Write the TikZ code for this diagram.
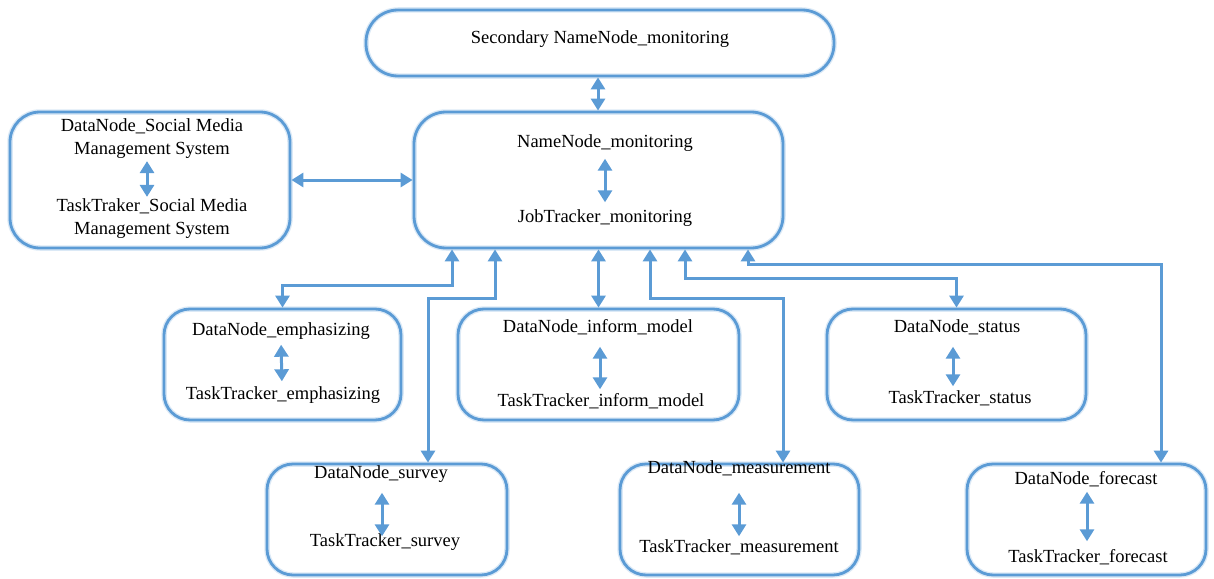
\documentclass[tikz,border=0pt]{standalone}
\usepackage{fontspec}
\setmainfont{Liberation Serif}
\usetikzlibrary{arrows.meta}
\definecolor{lblue}{RGB}{91,155,213}
\tikzset{
  box/.style={draw=lblue, line width=2.8pt, rounded corners=26pt, inner sep=0pt,
    preaction={draw=lblue!22, line width=5.5pt}},
  lbl/.style={inner sep=0pt, text height=13pt, text depth=4pt, font=\fontsize{18.5}{23}\selectfont},
  dbl/.style={draw=lblue, line width=3pt, {Triangle[width=14pt,length=12pt]}-{Triangle[width=14pt,length=12pt]}},
  inarr/.style={dbl, shorten <=5pt, shorten >=5pt}
}
\begin{document}
\begin{tikzpicture}[x=1pt,y=-1pt]
\useasboundingbox (0,0) rectangle (1214,578);
% boxes
\node[box, rounded corners=32pt, minimum width=468pt, minimum height=66pt] (sec) at (600,43) {};
\node[box, rounded corners=32pt, minimum width=369pt, minimum height=136pt] (nn) at (598.5,180) {};
\node[box, rounded corners=30pt, minimum width=280pt, minimum height=136pt] (sm) at (150,180) {};
\node[box, minimum width=237pt, minimum height=111pt] (emph) at (282.5,364.5) {};
\node[box, minimum width=281pt, minimum height=111pt] (inf) at (598.5,364.5) {};
\node[box, minimum width=259pt, minimum height=111pt] (stat) at (956.5,364.5) {};
\node[box, minimum width=240pt, minimum height=111pt] (surv) at (387,519.5) {};
\node[box, minimum width=239pt, minimum height=111pt] (meas) at (739.5,519.5) {};
\node[box, minimum width=239pt, minimum height=111pt] (fore) at (1086.5,519.5) {};
% texts
\node[lbl] (secT) at (600,39) {Secondary NameNode\_monitoring};
\node[lbl] (nnA) at (605,143) {NameNode\_monitoring};
\node[lbl] (nnB) at (605,218) {JobTracker\_monitoring};
\node[lbl, align=center, text height=, text depth=] (smA) at (152,139) {DataNode\_Social Media\\Management System};
\node[lbl, align=center, text height=, text depth=] (smB) at (152,219) {TaskTraker\_Social Media\\Management System};
\node[lbl] (emA) at (281,331) {DataNode\_emphasizing};
\node[lbl] (emB) at (283,395) {TaskTracker\_emphasizing};
\node[lbl] (inA) at (598,328) {DataNode\_inform\_model};
\node[lbl] (inB) at (601,402) {TaskTracker\_inform\_model};
\node[lbl] (stA) at (957,328) {DataNode\_status};
\node[lbl] (stB) at (960,399) {TaskTracker\_status};
\node[lbl] (suA) at (381,474) {DataNode\_survey};
\node[lbl] (suB) at (385,542) {TaskTracker\_survey};
\node[lbl] (meA) at (739,469) {DataNode\_measurement};
\node[lbl] (meB) at (739,548) {TaskTracker\_measurement};
\node[lbl] (foA) at (1086,480) {DataNode\_forecast};
\node[lbl] (foB) at (1088,558) {TaskTracker\_forecast};
% inner arrows
\draw[inarr, shorten <=7pt, shorten >=7pt] (nnA.south) -- (nnB.north);
\draw[inarr, shorten <=2pt, shorten >=2pt] ([xshift=-5pt]smA.south) -- ([xshift=-5pt]smB.north);
\draw[inarr] (emA.south) -- ([xshift=-1pt]emB.north);
\draw[inarr, shorten <=10pt, shorten >=4pt] ([xshift=2pt]inA.south) -- ([xshift=-1pt]inB.north);
\draw[inarr, shorten <=10pt, shorten >=4pt] ([xshift=-4pt]stA.south) -- ([xshift=-7pt]stB.north);
\draw[inarr, shorten <=10pt, shorten >=-3pt] ([xshift=1pt]suA.south) -- ([xshift=-3pt]suB.north);
\draw[inarr, shorten <=15pt, shorten >=3pt] (meA.south) -- (meB.north);
\draw[inarr, shorten <=3pt, shorten >=8pt] ([xshift=1pt]foA.south) -- ([xshift=-1pt]foB.north);
% connectors
\draw[dbl] (sec.south -| {598,0}) -- (nn.north -| {598,0});
\draw[dbl] (sm.east) -- (nn.west);
\draw[dbl] (inf.north) -- (inf.north |- nn.south);
\draw[dbl] ([xshift=-146.5pt]nn.south) -- ++(0,36) -| (emph.north);
\draw[dbl] ([xshift=-103.5pt]nn.south) -- ++(0,49) -| ([xshift=41pt]surv.north);
\draw[dbl] ([xshift=51.5pt]nn.south) -- ++(0,49) -| ([xshift=43.5pt]meas.north);
\draw[dbl] ([xshift=86.5pt]nn.south) -- ++(0,29) -| (stat.north);
\draw[dbl] ([xshift=149.5pt]nn.south) -- ++(0,15) -| ([xshift=74.5pt]fore.north);
\end{tikzpicture}
\end{document}
